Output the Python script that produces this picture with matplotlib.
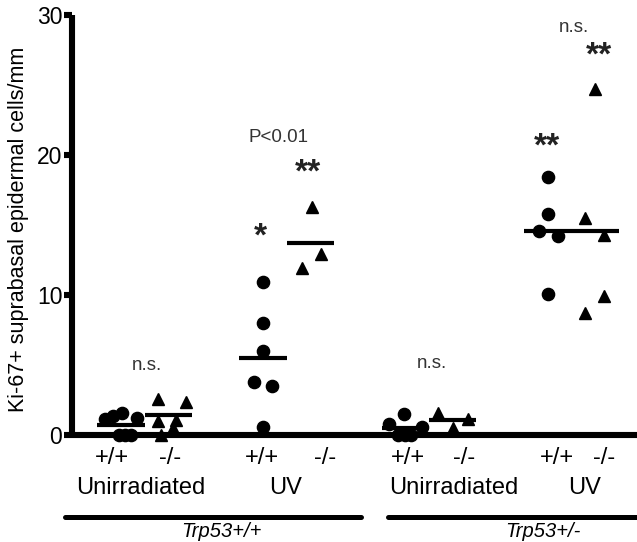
import numpy as np
import matplotlib
matplotlib.use("Agg")
import matplotlib.pyplot as plt
from matplotlib.lines import Line2D

plt.rcParams['font.family'] = ['Liberation Sans', 'DejaVu Sans']

# ---------------- data ----------------
positions = [0, 1, 3, 4, 6, 7, 9, 10]
genotype_labels = ["+/+", "-/-", "+/+", "-/-", "+/+", "-/-", "+/+", "-/-"]
treatment_labels = ["Unirradiated", "UV", "Unirradiated", "UV"]
strain_labels = ["Trp53+/+", "Trp53+/-"]

wt_unirr_1 = [1.15, 1.35, 1.6, 1.2, 0.0, 0.0, 0.0]
ko_unirr_1 = [2.55, 2.36, 1.0, 1.07, 0.0, 0.5]
wt_uv_1 = [10.9, 8.0, 6.0, 3.8, 3.5, 0.6]
ko_uv_1 = [16.3, 12.9, 11.9]
wt_unirr_2 = [0.8, 1.5, 0.6, 0.0, 0.0, 0.0]
ko_unirr_2 = [1.6, 1.15, 0.5]
wt_uv_2 = [18.4, 15.8, 14.6, 14.2, 10.1]
ko_uv_2 = [24.7, 15.5, 14.3, 9.9, 8.7]
group_means = [0.7, 1.43, 5.5, 13.7, 0.5, 1.1, 14.6, 14.6]

series = [wt_unirr_1, ko_unirr_1, wt_uv_1, ko_uv_1,
          wt_unirr_2, ko_unirr_2, wt_uv_2, ko_uv_2]

# ---------------- layout / style ----------------
W, H = 637, 542
PX_UNIT = 47.4          # pixels per category unit
X0_PX = 121             # pixel of position 0
AX_LEFT_PX, AX_TOP_PX, AX_BOT_PX = 72, 15, 435

# horizontal spread of overlapping points (pixels)
spread = [
    [-16, -8, 1, 16, -2, 4, 10],
    [-10, 18, -10, 8, -7, 5],
    [0, 0, 0, -9, 9, 0],
    [1, 10, -9],
    [-16, -1, 17, -7, 0, 6],
    [-15, 15, 0],
    [0, 0, -9, 10, 0],
    [0, -10, 9, 9, -10],
]
markers = ['o', '^'] * 4

fig = plt.figure(figsize=(W / 100, H / 100), dpi=100)
ax = fig.add_axes([AX_LEFT_PX / W, 1 - AX_BOT_PX / H,
                   1 - AX_LEFT_PX / W, (AX_BOT_PX - AX_TOP_PX) / H])

xmin = (AX_LEFT_PX - X0_PX) / PX_UNIT
xmax = (W - X0_PX) / PX_UNIT
ax.set_xlim(xmin, xmax)
ax.set_ylim(0, 30)

for pos, vals, sp, mk, mean in zip(positions, series, spread, markers, group_means):
    xs = pos + np.array(sp) / PX_UNIT
    ms = 8.8 if mk == 'o' else 8.4
    ax.plot(xs, vals, linestyle='none', marker=mk, color='black',
            markersize=ms, clip_on=False, zorder=3)
    ax.plot([pos - 0.5, pos + 0.5], [mean, mean], color='black',
            lw=3.0, solid_capstyle='butt', zorder=4)

for s in ['top', 'right']:
    ax.spines[s].set_visible(False)
for s in ['left', 'bottom']:
    ax.spines[s].set_linewidth(4.4)
    ax.spines[s].set_capstyle('butt')
ax.set_xticks([])
ax.set_yticks([0, 10, 20, 30])
ax.tick_params(axis='y', length=6, width=4.4, labelsize=16.5, pad=1)

fig.text(19 / W, 1 - 229 / H, "Ki-67+ suprabasal epidermal cells/mm",
         rotation=90, ha='center', va='center', fontsize=15.5)


def to_data(px, py):
    return (px - X0_PX) / PX_UNIT, (AX_BOT_PX - py) / ((AX_BOT_PX - AX_TOP_PX) / 30)


# annotations (text, pixel x, pixel y)
notes = [("n.s.", 147, 366), ("n.s.", 432, 363), ("n.s.", 574, 27),
         ("P<0.01", 278, 138)]
for t, px, py in notes:
    x, y = to_data(px, py)
    ax.text(x, y, t, ha='center', va='center', fontsize=13.5, color='#333333',
            clip_on=False)

stars = [("*", 260, 237), ("**", 308, 173), ("**", 547, 147), ("**", 599, 56)]
for t, px, py in stars:
    x, y = to_data(px, py + 9)
    ax.text(x, y, t, ha='center', va='baseline', fontsize=24, color='#222222',
            fontweight='bold', clip_on=False)

# bottom labels
geno_px = [112, 170, 262, 325, 408, 464, 557, 604]
for lab, px in zip(genotype_labels, geno_px):
    fig.text(px / W, 1 - 458 / H, lab, ha='center', va='center', fontsize=17)

treat_px = [141, 286, 454, 585]
for lab, px in zip(treatment_labels, treat_px):
    fig.text(px / W, 1 - 488 / H, lab, ha='center', va='center', fontsize=17)

for (x1, x2) in [(65, 361), (388, 640)]:
    fig.add_artist(Line2D([x1 / W, x2 / W], [1 - 517 / H, 1 - 517 / H],
                          transform=fig.transFigure, color='black', lw=3.6,
                          solid_capstyle='round'))

strain_px = [221, 543]
for lab, px in zip(strain_labels, strain_px):
    fig.text(px / W, 1 - 537 / H, lab, ha='center', va='baseline', fontsize=14.5,
             style='italic')

fig.savefig("out.png", dpi=100)
